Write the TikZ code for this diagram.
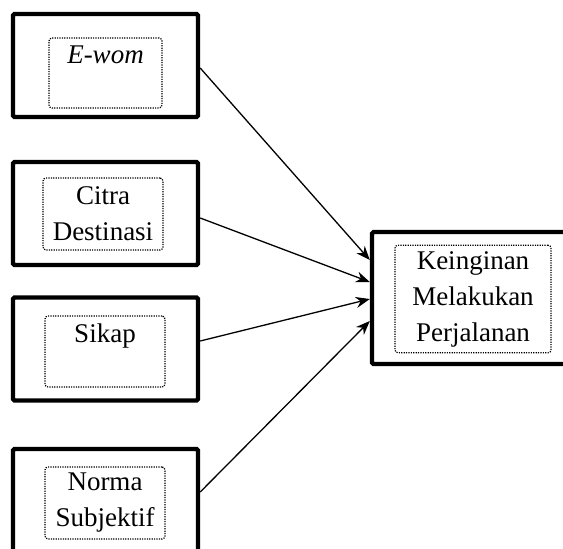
\documentclass[tikz,border=0pt]{standalone}
\usepackage{fontspec}
\setmainfont{Liberation Serif}
\usetikzlibrary{arrows.meta}
\tikzset{
  outerbox/.style={draw,line width=2.2pt,rounded corners=0.8pt,minimum width=92.5pt,
    minimum height=51.5pt,inner sep=0pt},
  innerbox/.style={draw,dash pattern=on 0.6pt off 0.6pt,line width=0.6pt,rounded corners=1.5pt,
    align=center,font=\fontsize{13.5}{18}\selectfont,minimum width=60pt,minimum height=36pt,
    inner sep=3pt},
  arrow/.style={-{Stealth[length=7pt,width=5.5pt]},line width=0.65pt}
}
\begin{document}
\begin{tikzpicture}[x=0.5pt,y=-0.5pt]
  \useasboundingbox (0,0) rectangle (563,548);
  % variabel bebas
  \node[outerbox] (ewom) at (105.5,65.5) {};
  \node[outerbox] (citra) at (105.5,213.5) {};
  \node[outerbox] (sikap) at (105.5,349) {};
  \node[outerbox] (norma) at (105.5,500.5) {};
  \node[innerbox,minimum width=56.5pt,minimum height=35pt] (ewomtxt) at (105.5,73) {\textit{E-wom}\\~};
  \node[innerbox] (citratxt) at (103,214) {Citra\\Destinasi};
  \node[innerbox,minimum height=35.5pt] (sikaptxt) at (105,351.5) {Sikap\\~};
  \node[innerbox] (normatxt) at (105,503) {Norma\\Subjektif};
  % variabel terikat
  \node[outerbox,minimum width=101pt,minimum height=66pt] (keinginan) at (473,298) {};
  \node[innerbox,minimum width=78pt,minimum height=53pt] (keinginantxt) at (473,299)
    {Keinginan\\Melakukan\\Perjalanan};
  \draw[arrow] ([yshift=-1.25pt]ewom.east) -- ([yshift=19pt]keinginan.west);
  \draw[arrow] ([yshift=-2.25pt]citra.east) -- ([yshift=8pt]keinginan.west);
  \draw[arrow] ([yshift=4pt]sikap.east) -- ([yshift=-0.5pt]keinginan.west);
  \draw[arrow] ([yshift=4.25pt]norma.east) -- ([yshift=-11.5pt]keinginan.west);
\end{tikzpicture}
\end{document}
